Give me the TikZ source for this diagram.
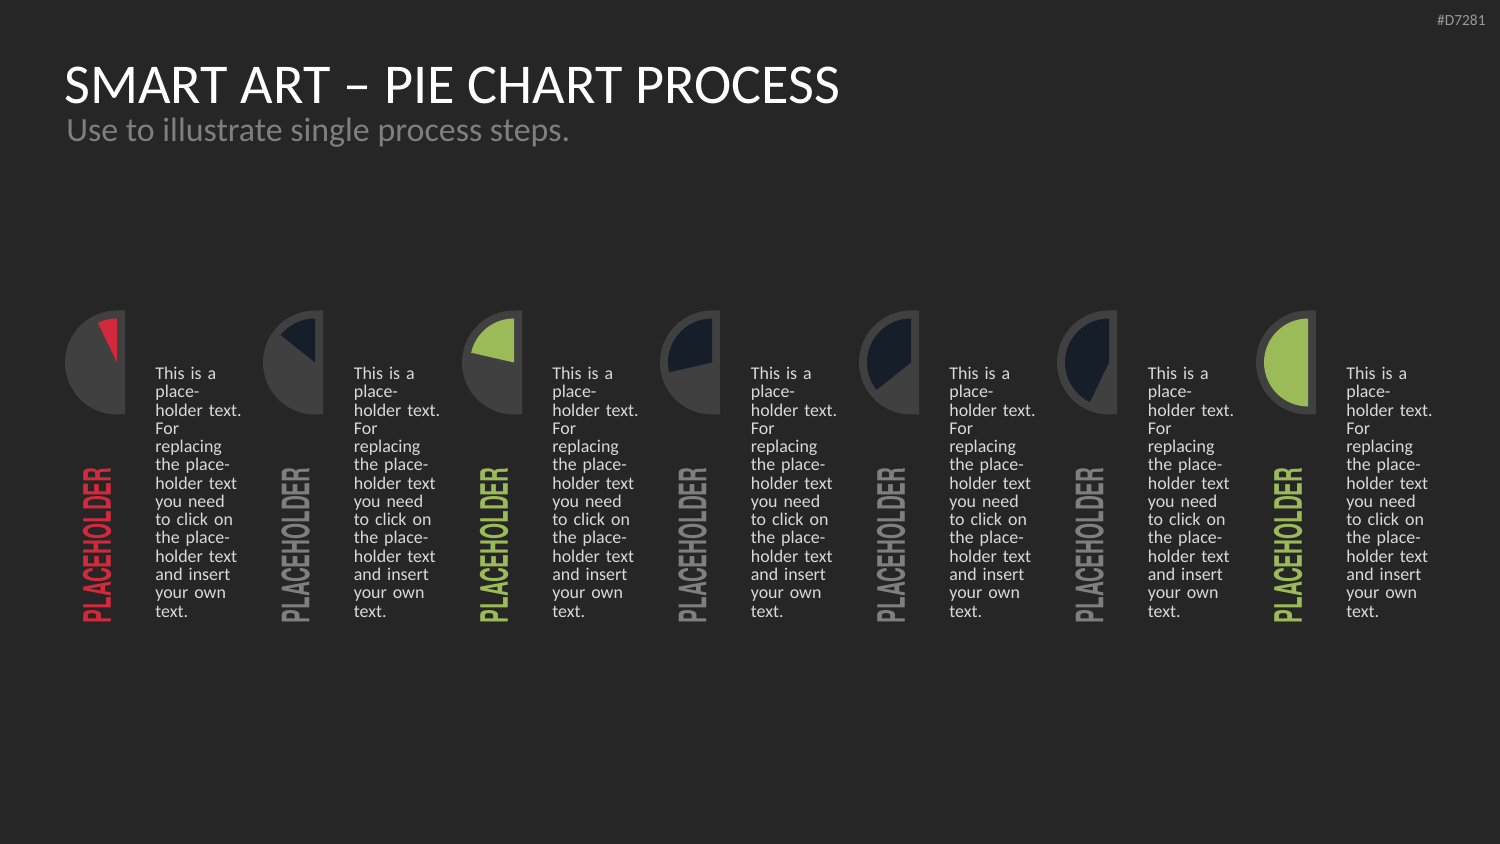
\documentclass[tikz,border=0pt]{standalone}
\usepackage{fontspec}
\usepackage{graphicx}
\setmainfont{Carlito}
\newfontfamily\tagfont{TeX Gyre Heros}
\definecolor{bgdark}{HTML}{262626}
\definecolor{ringgrey}{HTML}{404040}
\definecolor{stepred}{HTML}{D2293C}
\definecolor{stepgreen}{HTML}{9BBB59}
\definecolor{stepnavy}{HTML}{161E2A}
\definecolor{taggrey}{HTML}{7F7F7F}
\definecolor{notegrey}{HTML}{D9D9D9}
\newcommand{\notebody}{This is a\\ place-\\ holder text.\\ For\\ replacing\\ the place-\\ holder text\\ you need\\ to click on\\ the place-\\ holder text\\ and insert\\ your own\\ text.}
\newcommand{\tagword}{\resizebox{3.12cm}{0.56cm}{\tagfont\bfseries PLACEHOLDER}}
\begin{document}
\begin{tikzpicture}[x=0.02cm, y=0.02cm,
    ring/.style={fill=ringgrey},
    tag/.style={rotate=90, inner sep=0},
    note/.style={anchor=base west, inner sep=0, text width=2.4cm, align=left,
        text=notegrey, font=\fontsize{10.2}{10.4}\selectfont}]
    % Background
    \fill[bgdark] (0,0) rectangle (1500,844);
    \useasboundingbox (0,0) rectangle (1500,844);

    % Heading
    \node[anchor=base west, inner sep=0, text=white, font=\fontsize{32}{32}\selectfont] (title) at (64,740) {SMART ART -- PIE CHART PROCESS};
    \node[anchor=base west, inner sep=0, text=taggrey, font=\fontsize{19.3}{19.3}\selectfont] (subtitle) at (66,702) {Use to illustrate single process steps.};
    \node[anchor=base east, inner sep=0, text=taggrey!80, font=\fontsize{8.8}{8.8}\selectfont] (code) at (1486,818) {\#D7281};

    % Step 1
    \fill[ring] (125,533.5) -- (117,533.5) arc[start angle=90, end angle=270, radius=52] -- (125,429.5) -- cycle;
    \fill[stepred] (117,481.5) -- (117,525.5) arc[start angle=90, end angle=115.71, radius=44] -- cycle;
    \node[tag, text=stepred] (tag1) at (97,298.5) {\tagword};
    \node[note] (note1) at (155,464.5) {\notebody};

    % Step 2
    \fill[ring] (323,533.5) -- (315,533.5) arc[start angle=90, end angle=270, radius=52] -- (323,429.5) -- cycle;
    \fill[stepnavy] (315,481.5) -- (315,525.5) arc[start angle=90, end angle=141.43, radius=44] -- cycle;
    \node[tag, text=taggrey] (tag2) at (295.5,298.5) {\tagword};
    \node[note] (note2) at (353.5,464.5) {\notebody};

    % Step 3
    \fill[ring] (522,533.5) -- (514,533.5) arc[start angle=90, end angle=270, radius=52] -- (522,429.5) -- cycle;
    \fill[stepgreen] (514,481.5) -- (514,525.5) arc[start angle=90, end angle=167.14, radius=44] -- cycle;
    \node[tag, text=stepgreen] (tag3) at (494,298.5) {\tagword};
    \node[note] (note3) at (552,464.5) {\notebody};

    % Step 4
    \fill[ring] (720,533.5) -- (712,533.5) arc[start angle=90, end angle=270, radius=52] -- (720,429.5) -- cycle;
    \fill[stepnavy] (712,481.5) -- (712,525.5) arc[start angle=90, end angle=192.86, radius=44] -- cycle;
    \node[tag, text=taggrey] (tag4) at (692.5,298.5) {\tagword};
    \node[note] (note4) at (750.5,464.5) {\notebody};

    % Step 5
    \fill[ring] (919,533.5) -- (911,533.5) arc[start angle=90, end angle=270, radius=52] -- (919,429.5) -- cycle;
    \fill[stepnavy] (911,481.5) -- (911,525.5) arc[start angle=90, end angle=218.57, radius=44] -- cycle;
    \node[tag, text=taggrey] (tag5) at (891,298.5) {\tagword};
    \node[note] (note5) at (949,464.5) {\notebody};

    % Step 6
    \fill[ring] (1117,533.5) -- (1109,533.5) arc[start angle=90, end angle=270, radius=52] -- (1117,429.5) -- cycle;
    \fill[stepnavy] (1109,481.5) -- (1109,525.5) arc[start angle=90, end angle=244.29, radius=44] -- cycle;
    \node[tag, text=taggrey] (tag6) at (1089.5,298.5) {\tagword};
    \node[note] (note6) at (1147.5,464.5) {\notebody};

    % Step 7
    \fill[ring] (1316,533.5) -- (1308,533.5) arc[start angle=90, end angle=270, radius=52] -- (1316,429.5) -- cycle;
    \fill[stepgreen] (1308,481.5) -- (1308,525.5) arc[start angle=90, end angle=270, radius=44] -- cycle;
    \node[tag, text=stepgreen] (tag7) at (1288,298.5) {\tagword};
    \node[note] (note7) at (1346,464.5) {\notebody};
\end{tikzpicture}
\end{document}
